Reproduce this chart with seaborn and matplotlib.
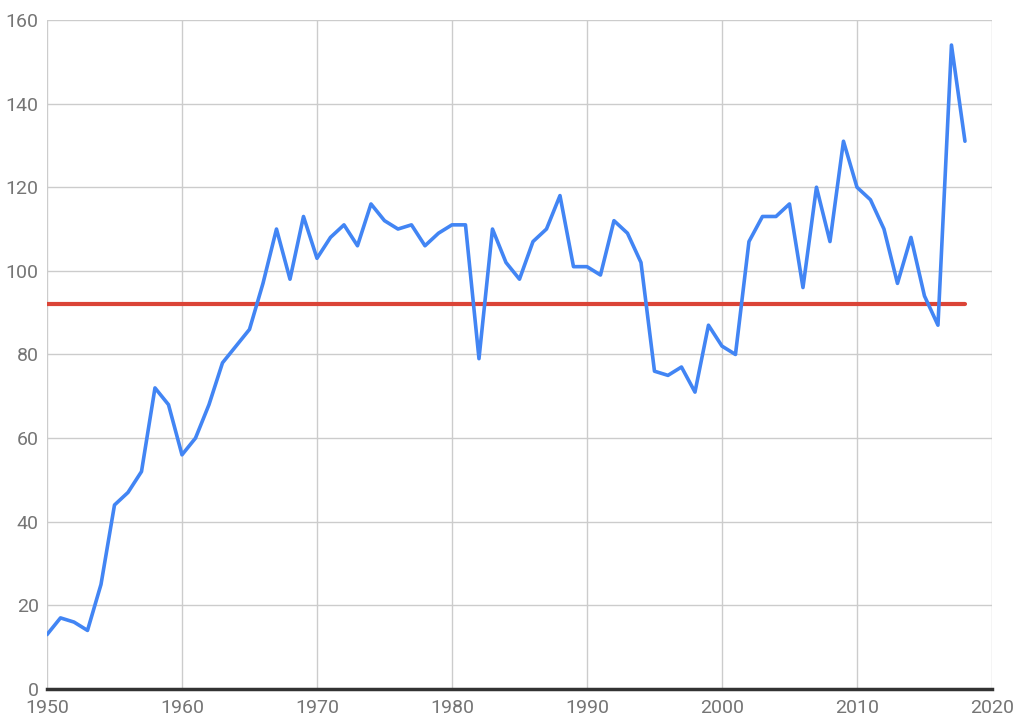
import matplotlib
matplotlib.use("Agg")
import matplotlib.pyplot as plt
import seaborn as sns
import pandas as pd

# ========== data ==========
years = list(range(1950, 2019))
values = [13, 17, 16, 14, 25, 44, 47, 52, 72, 68,
          56, 60, 68, 78, 82, 86, 97, 110, 98, 113,
          103, 108, 111, 106, 116, 112, 110, 111, 106, 109,
          111, 111, 79, 110, 102, 98, 107, 110, 118, 101,
          101, 99, 112, 109, 102, 76, 75, 77, 71, 87,
          82, 80, 107, 113, 113, 116, 96, 120, 107, 131,
          120, 117, 110, 97, 108, 94, 87, 154, 131]
average = [92] * len(years)
x_ticks = list(range(1950, 2021, 10))
y_ticks = list(range(0, 161, 20))

df = pd.DataFrame({"year": years, "value": values, "average": average})

sns.set_style("white")
plt.rcParams["font.family"] = ["Roboto", "DejaVu Sans"]

fig = plt.figure(figsize=(10.15, 7.26), dpi=100)
ax = fig.add_axes([0.0463, 0.051, 0.931, 0.9215])

sns.lineplot(data=df, x="year", y="value", color="#4285F4", linewidth=2.6, ax=ax, zorder=3)
sns.lineplot(data=df, x="year", y="average", color="#DB4437", linewidth=3.0, ax=ax, zorder=2)

ax.set_xlim(1950, 2020)
ax.set_ylim(0, 160)
ax.set_xticks(x_ticks)
ax.set_yticks(y_ticks)
ax.set_xlabel("")
ax.set_ylabel("")
ax.grid(True, color="#cccccc", linewidth=1.0)
ax.set_axisbelow(True)

for side in ["top", "right", "left"]:
    ax.spines[side].set_visible(False)
ax.spines["bottom"].set_color("#333333")
ax.spines["bottom"].set_linewidth(2.5)
ax.spines["bottom"].set_zorder(4)

ax.tick_params(axis="both", length=0, labelsize=14, labelcolor="#757575")
ax.tick_params(axis="x", pad=7)
ax.tick_params(axis="y", pad=6)

fig.savefig("out.png", dpi=100)
